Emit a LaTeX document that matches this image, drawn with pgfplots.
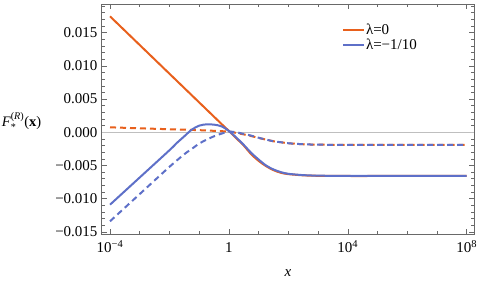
\documentclass[border=0pt]{standalone}
\usepackage{fontspec}
\setmainfont{Liberation Serif}
\usepackage{amsmath}
\usepackage{pgfplots}
\usepackage{pgfplotstable}
\pgfplotsset{compat=1.18}
\definecolor{c1}{RGB}{232,96,28}
\definecolor{c2}{RGB}{94,112,200}
\definecolor{frm}{RGB}{105,105,105}

\pgfplotstableread{
lx v
-4 0.01746
-3 0.01314
-2 0.00882
-1.5 0.00666
-1 0.0045
-0.5 0.00234
-0.25 0.00126
0 0.0002
0.25 -0.0009
0.5 -0.0020
0.75 -0.0033
1 -0.0043
1.25 -0.0051
1.5 -0.0057
1.75 -0.0061
2 -0.0063
2.5 -0.00648
3 -0.00655
4 -0.00658
5 -0.00658
6 -0.00658
7 -0.00658
8 -0.00658
}\orsolid

\pgfplotstableread{
lx v
-4 0.00075
-3 0.0006
-2 0.00046
-1 0.00032
-0.5 0.00022
0 0.0001
0.25 -0.0001
0.5 -0.00032
0.75 -0.00057
1 -0.00085
1.25 -0.0011
1.5 -0.00135
1.75 -0.0015
2 -0.00165
2.5 -0.0018
3 -0.00186
4 -0.0019
5 -0.0019
6 -0.0019
7 -0.0019
8 -0.0019
}\ordash

\pgfplotstableread{
lx v
-4 -0.0109
-3 -0.0068
-2 -0.0027
-1.75 -0.0016
-1.5 -0.0006
-1.25 0.0004
-1 0.0010
-0.75 0.0012
-0.5 0.00115
-0.25 0.0009
0 0.0002
0.25 -0.0008
0.5 -0.0019
0.75 -0.0031
1 -0.0041
1.25 -0.0050
1.5 -0.0056
1.75 -0.0060
2 -0.00625
2.5 -0.00645
3 -0.00653
4 -0.00657
5 -0.00658
6 -0.00658
7 -0.00658
8 -0.00658
}\blsolid

\pgfplotstableread{
lx v
-4 -0.0134
-3 -0.0093
-2 -0.0052
-1.5 -0.0033
-1.25 -0.0025
-1 -0.0017
-0.75 -0.0011
-0.5 -0.0006
-0.25 -0.0002
0 0.0001
0.25 0.0000
0.5 -0.00025
0.75 -0.0005
1 -0.00082
1.25 -0.0011
1.5 -0.00135
1.75 -0.0015
2 -0.00165
2.5 -0.0018
3 -0.00186
4 -0.0019
5 -0.0019
6 -0.0019
7 -0.0019
8 -0.0019
}\bldash

\begin{document}
\begin{tikzpicture}
\begin{axis}[
  scale only axis, width=372.3pt, height=230.3pt,
  xmode=log, xmin=5.25e-5, xmax=1.758e8,
  ymin=-0.01536, ymax=0.01932,
  scaled y ticks=false, scaled x ticks=false,
  xtick={1e-4,1,1e4,1e8},
  xticklabels={10\textsuperscript{−4},1,10\textsuperscript{4},10\textsuperscript{8}},
  minor xtick={1e-3,1e-2,1e-1,10,100,1000,1e5,1e6,1e7},
  ytick={-0.015,-0.01,-0.005,0,0.005,0.01,0.015},
  yticklabels={−0.015,−0.010,−0.005,0.000,0.005,0.010,0.015},
  minor ytick={-0.014,-0.013,-0.012,-0.011,-0.009,-0.008,-0.007,-0.006,-0.004,-0.003,-0.002,-0.001,0.001,0.002,0.003,0.004,0.006,0.007,0.008,0.009,0.011,0.012,0.013,0.014,0.016,0.017,0.018,0.019},
  tick align=inside, xtick pos=both, ytick pos=both,
  major tick length=5pt, minor tick length=3pt,
  axis line style={frm, line width=0.6pt},
  every tick/.style={frm, line width=0.6pt},
  tick label style={font=\fontsize{15}{17}\selectfont, text=black},
  xticklabel style={anchor=base, inner sep=0pt, yshift=-18.7pt},
  yticklabel style={anchor=east, inner sep=0pt, xshift=-4pt},
  every axis y label/.style={at={(axis description cs:0,0.49)}, anchor=east, xshift=-57pt, font=\fontsize{14.5}{17}\selectfont},
  every axis x label/.style={at={(axis description cs:0.5,0)}, anchor=center, yshift=-39pt, font=\fontsize{15}{17}\selectfont},
  xlabel={\textit{x}},
  ylabel={$\textit{F}_{\text{*}}^{\text{(\textit{R})}}$(\textbf{x})},
  legend style={at={(axis description cs:0.6455,0.918)}, anchor=north west, draw=none, fill=none, inner sep=0pt, font=\fontsize{15}{17}\selectfont, nodes={inner sep=0.8pt}, row sep=1pt},
  legend cell align=left,
  legend image code/.code={\draw[#1] (0pt,0pt) -- (21pt,0pt);},
]
\addplot[forget plot, black!25, line width=0.7pt] coordinates {(5.25e-5,0) (1.758e8,0)};
\addplot[c1, line width=2pt, smooth] table[x expr={10^(\thisrow{lx})}, y=v] {\orsolid};
\addlegendentry{λ=0}
\addplot[forget plot, c1, line width=2pt, smooth, dash pattern=on 6pt off 4pt] table[x expr={10^(\thisrow{lx})}, y=v] {\ordash};
\addplot[c2, line width=2pt, smooth] table[x expr={10^(\thisrow{lx})}, y=v] {\blsolid};
\addlegendentry{λ=−1/10}
\addplot[forget plot, c2, line width=2pt, smooth, dash pattern=on 6pt off 4pt] table[x expr={10^(\thisrow{lx})}, y=v] {\bldash};
\end{axis}
\path (current axis.south west) ++(-101.7pt,-49.7pt) coordinate (A);
\path (current axis.north east) ++(6pt,4pt) coordinate (B);
\pgfresetboundingbox
\path[use as bounding box] (A) rectangle (B);
\end{tikzpicture}
\end{document}
